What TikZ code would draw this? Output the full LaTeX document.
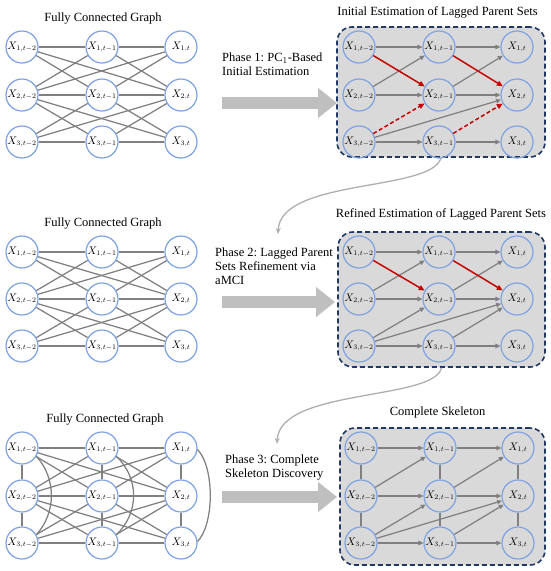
\documentclass[tikz,border=0pt]{standalone}
\usepackage{fontspec}
\setmainfont{Liberation Serif}
\frenchspacing
\usetikzlibrary{arrows.meta}
\definecolor{nodeblue}{RGB}{126,163,227}
\definecolor{edgegray}{RGB}{128,128,128}
\definecolor{boxfill}{RGB}{217,217,217}
\definecolor{boxline}{RGB}{31,56,100}
\definecolor{bigarrow}{RGB}{191,191,191}
\definecolor{curvegray}{RGB}{175,175,175}
\definecolor{redarrow}{RGB}{200,0,0}
\tikzset{
 var/.style={circle, draw=nodeblue, line width=1.2pt, minimum size=32pt, inner sep=0pt, font=\fontsize{10.6}{12}\selectfont},
 lvar/.style={var, fill=white},
 rvar/.style={var},
 ln/.style={draw=edgegray, line width=1.25pt},
 da/.style={draw=edgegray, line width=1.25pt, -{Triangle[length=5pt,width=4.5pt]}},
 ra/.style={draw=redarrow, line width=1.5pt, -{Triangle[length=6pt,width=5pt]}},
 rd/.style={ra, dash pattern=on 4pt off 2.5pt},
 pbox/.style={draw=boxline, fill=boxfill, line width=1.6pt, dash pattern=on 5pt off 3pt, rounded corners=15pt, inner sep=0pt},
 ttl/.style={font=\fontsize{12.5}{14}\selectfont, anchor=base, inner sep=0pt},
 phase/.style={font=\fontsize{12.5}{14}\selectfont, align=left, anchor=north west, inner sep=0pt},
 bigarr/.style={draw=bigarrow, line width=11.5pt, -{Triangle[length=19pt,width=29pt]}},
 flow/.style={draw=curvegray, line width=1.3pt, -{Stealth[length=6pt,width=5pt]}},
}
\def\fulledges{11/12,12/13,21/22,22/23,31/32,32/33,11/22,11/23,21/12,21/13,21/32,21/33,31/22,31/23,12/23,22/13,22/33,32/23}
\def\grayone{11/12,12/13,21/12,21/22,22/13,22/23,31/32,32/33,31/23}
\def\graytwo{11/12,12/13,21/12,21/22,22/13,22/23,31/22,31/23,31/32,32/33,32/23}
\def\vertedges{11/21,21/31,12/22,22/32,13/23,23/33}
\begin{document}
\begin{tikzpicture}[x=1pt,y=-1pt]
\useasboundingbox (0,0) rectangle (550,571);
\fill[white] (0,0) rectangle (550,571);

% boxes
\node[pbox, minimum width=208pt, minimum height=130pt] (box1) at (441,92) {};
\node[pbox, minimum width=207pt, minimum height=135pt] (box2) at (441.5,299.5) {};
\node[pbox, minimum width=205pt, minimum height=137pt] (box3) at (442.5,496.5) {};

% titles
\node[ttl] (t1) at (103,21.7) {Fully Connected Graph};
\node[ttl] (t2) at (437.5,15) {Initial Estimation of Lagged Parent Sets};
\node[ttl] (t3) at (103,226) {Fully Connected Graph};
\node[ttl] (t4) at (441,217) {Refined Estimation of Lagged Parent Sets};
\node[ttl] (t5) at (105,422) {Fully Connected Graph};
\node[ttl] (t6) at (437.5,415) {Complete Skeleton};

% phase texts
\node[phase] (p1) at (222,53) {Phase 1: PC$_1$-Based\\Initial Estimation};
\node[phase] (p2) at (215,247.5) {Phase 2: Lagged Parent\\Sets Refinement via\\aMCI};
\node[phase] (p3) at (225,454.5) {Phase 3: Complete\\Skeleton Discovery};

% big arrows
\coordinate (a1s) at (222,103); \coordinate (a1e) at (337,103);
\coordinate (a2s) at (222,302); \coordinate (a2e) at (335,302);
\coordinate (a3s) at (222,497); \coordinate (a3e) at (337,497);
\draw[bigarr] (a1s) -- (a1e);
\draw[bigarr] (a2s) -- (a2e);
\draw[bigarr] (a3s) -- (a3e);

% nodes
\foreach \r/\y in {1/47,2/95,3/142}{
  \node[lvar] (A\r1) at (22,\y) {$X_{\r,t-2}$};
  \node[lvar] (A\r2) at (102,\y) {$X_{\r,t-1}$};
  \node[lvar] (A\r3) at (181,\y) {$X_{\r,t}$};
  \node[rvar] (B\r1) at (359,\y) {$X_{\r,t-2}$};
  \node[rvar] (B\r2) at (439,\y) {$X_{\r,t-1}$};
  \node[rvar] (B\r3) at (517,\y) {$X_{\r,t}$};
}
\foreach \r/\y in {1/252,2/299,3/346}{
  \node[lvar] (C\r1) at (22,\y) {$X_{\r,t-2}$};
  \node[lvar] (C\r2) at (102,\y) {$X_{\r,t-1}$};
  \node[lvar] (C\r3) at (181,\y) {$X_{\r,t}$};
  \node[rvar] (D\r1) at (359,\y) {$X_{\r,t-2}$};
  \node[rvar] (D\r2) at (439,\y) {$X_{\r,t-1}$};
  \node[rvar] (D\r3) at (517,\y) {$X_{\r,t}$};
}
\foreach \r/\y in {1/448,2/496,3/543}{
  \node[lvar] (E\r1) at (22,\y) {$X_{\r,t-2}$};
  \node[lvar] (E\r2) at (102,\y) {$X_{\r,t-1}$};
  \node[lvar] (E\r3) at (181,\y) {$X_{\r,t}$};
  \node[rvar] (F\r1) at (361,\y) {$X_{\r,t-2}$};
  \node[rvar] (F\r2) at (440,\y) {$X_{\r,t-1}$};
  \node[rvar] (F\r3) at (518,\y) {$X_{\r,t}$};
}

% left panels: fully connected
\foreach \u/\v in \fulledges {
  \draw[ln] (A\u) -- (A\v);
  \draw[ln] (C\u) -- (C\v);
  \draw[ln] (E\u) -- (E\v);
}
\foreach \u/\v in \vertedges { \draw[ln] (E\u) -- (E\v); }
\draw[ln] (E11.-30) .. controls +(20,22) and +(20,-22) .. (E31.30);
\draw[ln] (E12.-30) .. controls +(23,22) and +(23,-22) .. (E32.30);
\draw[ln] (E13.-5) .. controls +(17,18) and +(17,-18) .. (E33.5);

% right panels
\foreach \u/\v in \grayone { \draw[da] (B\u) -- (B\v); }
\draw[ra] (B11) -- (B22);
\draw[ra] (B12) -- (B23);
\draw[rd] (B31) -- (B22);
\draw[rd] (B32) -- (B23);

\foreach \u/\v in \graytwo { \draw[da] (D\u) -- (D\v); }
\draw[ra] (D11) -- (D22);
\draw[ra] (D12) -- (D23);

\foreach \u/\v in \graytwo { \draw[da] (F\u) -- (F\v); }
\foreach \u/\v in \vertedges { \draw[ln] (F\u) -- (F\v); }

% flow curves
\coordinate (f1) at (278,234);
\coordinate (f2) at (277,444);
\draw[flow] (box1.south) .. controls (432,192) and (280,178) .. (f1);
\draw[flow] (box2.south) .. controls (434,401) and (279,388) .. (f2);
\end{tikzpicture}
\end{document}
